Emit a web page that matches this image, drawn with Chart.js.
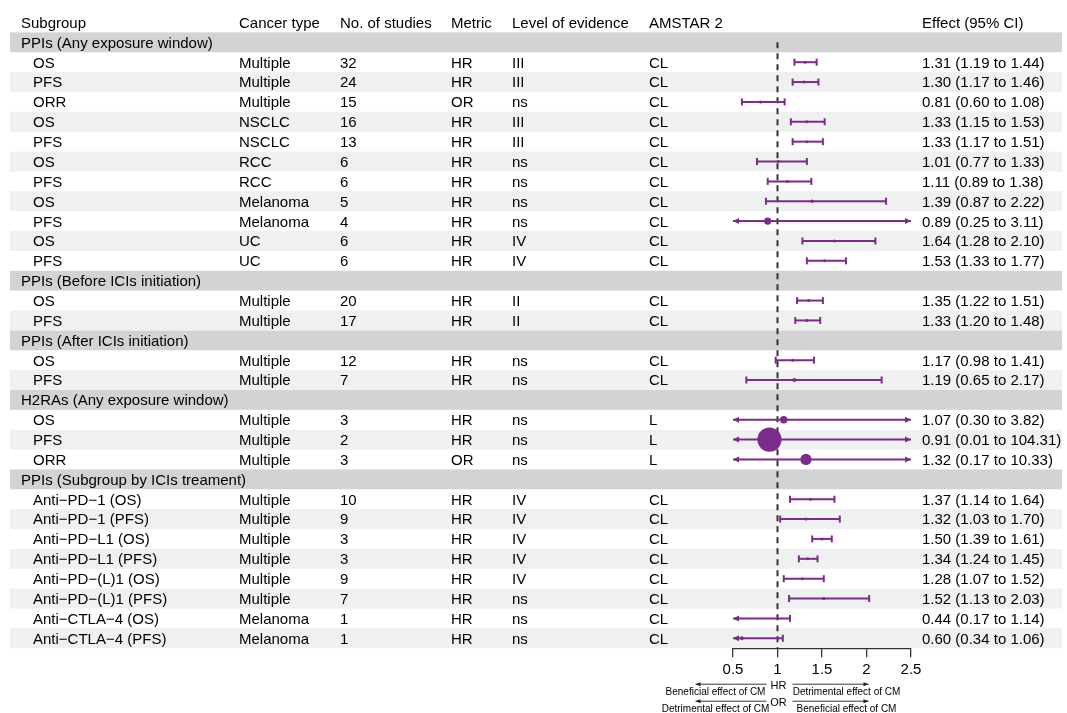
<!DOCTYPE html>
<html>
<head>
<meta charset="utf-8">
<title>Forest plot: acid suppressants and ICI outcomes</title>
<script src="https://cdn.jsdelivr.net/npm/chart.js@4.4.1/dist/chart.umd.min.js"></script>
<style>
  html, body { margin: 0; padding: 0; background: #ffffff; }
  canvas { display: block; }
</style>
</head>
<body>
<canvas id="forest" width="1067" height="713"></canvas>
<script>
// ---- Table / plot data -------------------------------------------------
const headers = ["Subgroup", "Cancer type", "No. of studies", "Metric", "Level of evidence", "AMSTAR 2", "Effect (95% CI)"];

const groupNames = [
  "PPIs (Any exposure window)",
  "PPIs (Before ICIs initiation)",
  "PPIs (After ICIs initiation)",
  "H2RAs (Any exposure window)",
  "PPIs (Subgroup by ICIs treament)"
];

// group index of each data row
const rowGroup = [0,0,0,0,0,0,0,0,0,0,0, 1,1, 2,2, 3,3,3, 4,4,4,4,4,4,4,4];

const subgroups = [
  "OS", "PFS", "ORR", "OS", "PFS", "OS", "PFS", "OS", "PFS", "OS", "PFS",
  "OS", "PFS",
  "OS", "PFS",
  "OS", "PFS", "ORR",
  "Anti\u2212PD\u22121 (OS)", "Anti\u2212PD\u22121 (PFS)", "Anti\u2212PD\u2212L1 (OS)", "Anti\u2212PD\u2212L1 (PFS)",
  "Anti\u2212PD\u2212(L)1 (OS)", "Anti\u2212PD\u2212(L)1 (PFS)", "Anti\u2212CTLA\u22124 (OS)", "Anti\u2212CTLA\u22124 (PFS)"
];

const cancerTypes = [
  "Multiple", "Multiple", "Multiple", "NSCLC", "NSCLC", "RCC", "RCC", "Melanoma", "Melanoma", "UC", "UC",
  "Multiple", "Multiple",
  "Multiple", "Multiple",
  "Multiple", "Multiple", "Multiple",
  "Multiple", "Multiple", "Multiple", "Multiple", "Multiple", "Multiple", "Melanoma", "Melanoma"
];

const studyCounts = [32, 24, 15, 16, 13, 6, 6, 5, 4, 6, 6, 20, 17, 12, 7, 3, 2, 3, 10, 9, 3, 3, 9, 7, 1, 1];

const metrics = [
  "HR", "HR", "OR", "HR", "HR", "HR", "HR", "HR", "HR", "HR", "HR",
  "HR", "HR", "HR", "HR", "HR", "HR", "OR",
  "HR", "HR", "HR", "HR", "HR", "HR", "HR", "HR"
];

const evidenceLevels = [
  "III", "III", "ns", "III", "III", "ns", "ns", "ns", "ns", "IV", "IV",
  "II", "II", "ns", "ns", "ns", "ns", "ns",
  "IV", "IV", "IV", "IV", "IV", "ns", "ns", "ns"
];

const amstarRatings = [
  "CL", "CL", "CL", "CL", "CL", "CL", "CL", "CL", "CL", "CL", "CL",
  "CL", "CL", "CL", "CL", "L", "L", "L",
  "CL", "CL", "CL", "CL", "CL", "CL", "CL", "CL"
];

const estimates = [1.31, 1.30, 0.81, 1.33, 1.33, 1.01, 1.11, 1.39, 0.89, 1.64, 1.53,
                   1.35, 1.33, 1.17, 1.19, 1.07, 0.91, 1.32,
                   1.37, 1.32, 1.50, 1.34, 1.28, 1.52, 0.44, 0.60];
const lowerCI   = [1.19, 1.17, 0.60, 1.15, 1.17, 0.77, 0.89, 0.87, 0.25, 1.28, 1.33,
                   1.22, 1.20, 0.98, 0.65, 0.30, 0.01, 0.17,
                   1.14, 1.03, 1.39, 1.24, 1.07, 1.13, 0.17, 0.34];
const upperCI   = [1.44, 1.46, 1.08, 1.53, 1.51, 1.33, 1.38, 2.22, 3.11, 2.10, 1.77,
                   1.51, 1.48, 1.41, 2.17, 3.82, 104.31, 10.33,
                   1.64, 1.70, 1.61, 1.45, 1.52, 2.03, 1.14, 1.06];

const xTicks = [0.5, 1, 1.5, 2, 2.5];

// ---- Row layout (group header rows interleaved with data rows) ----------
const rowPos = [];       // y value of each data row
const withinGroup = [];  // index of each data row inside its group
const groupPos = [];     // y value of each group header row
let cursor = 0;
rowGroup.forEach((g, i) => {
  if (i === 0 || rowGroup[i - 1] !== g) {
    groupPos.push(cursor++);
    withinGroup.push(0);
  } else {
    withinGroup.push(withinGroup[i - 1] + 1);
  }
  rowPos.push(cursor++);
});
const totalRows = cursor;

const PURPLE = "#7b2b89";
const FONT = '"Liberation Sans", Arial, Helvetica, sans-serif';
const colX = [21, 239, 340, 451, 512, 649, 922];
const subIndent = 33;
const CAP_MID = 5.4;   // half the cap height of 15px text, to centre labels in rows

const fmt = v => v.toFixed(2);

function arrowHead(ctx, xTip, y, dir, len, half) {
  ctx.beginPath();
  ctx.moveTo(xTip, y);
  ctx.lineTo(xTip - dir * len, y - half);
  ctx.lineTo(xTip - dir * len, y + half);
  ctx.closePath();
  ctx.fill();
}

const forestPlugin = {
  id: "forestTable",
  beforeDraw(chart) {
    const ctx = chart.ctx;
    const ys = chart.scales.y;
    const rowH = Math.abs(ys.getPixelForValue(1) - ys.getPixelForValue(0));
    const bandL = 10, bandR = 1062;
    ctx.save();
    // shaded bands
    groupPos.forEach(p => {
      const y = ys.getPixelForValue(p);
      ctx.fillStyle = "#d3d3d3";
      ctx.fillRect(bandL, y - rowH / 2, bandR - bandL, rowH);
    });
    rowPos.forEach((p, i) => {
      if (withinGroup[i] % 2 === 1) {
        const y = ys.getPixelForValue(p);
        ctx.fillStyle = "#eef1ef";
        ctx.fillRect(bandL, y - rowH / 2, bandR - bandL, rowH);
      }
    });
    // table text
    ctx.fillStyle = "#000";
    ctx.font = "15px " + FONT;
    ctx.textBaseline = "alphabetic";
    ctx.textAlign = "left";
    const yHead = ys.getPixelForValue(-1) + CAP_MID;
    headers.forEach((h, k) => ctx.fillText(h, colX[k], yHead));
    groupPos.forEach((p, g) => ctx.fillText(groupNames[g], colX[0], ys.getPixelForValue(p) + CAP_MID));
    rowPos.forEach((p, i) => {
      const y = ys.getPixelForValue(p) + CAP_MID;
      ctx.fillText(subgroups[i], subIndent, y);
      ctx.fillText(cancerTypes[i], colX[1], y);
      ctx.fillText(String(studyCounts[i]), colX[2], y);
      ctx.fillText(metrics[i], colX[3], y);
      ctx.fillText(evidenceLevels[i], colX[4], y);
      ctx.fillText(amstarRatings[i], colX[5], y);
      ctx.fillText(fmt(estimates[i]) + " (" + fmt(lowerCI[i]) + " to " + fmt(upperCI[i]) + ")", colX[6], y);
    });
    ctx.restore();
  },
  beforeDatasetsDraw(chart) {
    const ctx = chart.ctx;
    const xs = chart.scales.x, ys = chart.scales.y;
    ctx.save();
    // reference line at no effect
    const xRef = xs.getPixelForValue(1);
    ctx.strokeStyle = "#333";
    ctx.lineWidth = 2;
    ctx.setLineDash([6, 5]);
    ctx.beginPath();
    ctx.moveTo(xRef, ys.getPixelForValue(0));
    ctx.lineTo(xRef, chart.chartArea.bottom);
    ctx.stroke();
    ctx.setLineDash([]);
    // confidence intervals
    ctx.strokeStyle = PURPLE;
    ctx.fillStyle = PURPLE;
    ctx.lineWidth = 2;
    estimates.forEach((est, i) => {
      const y = ys.getPixelForValue(rowPos[i]);
      const lo = lowerCI[i], hi = upperCI[i];
      const x0 = xs.getPixelForValue(Math.max(lo, xs.min));
      const x1 = xs.getPixelForValue(Math.min(hi, xs.max));
      ctx.beginPath();
      ctx.moveTo(x0, y);
      ctx.lineTo(x1, y);
      ctx.stroke();
      if (lo < xs.min) {
        arrowHead(ctx, x0, y, -1, 6, 3);
      } else {
        ctx.beginPath(); ctx.moveTo(x0, y - 3.5); ctx.lineTo(x0, y + 3.5); ctx.stroke();
      }
      if (hi > xs.max) {
        arrowHead(ctx, x1, y, 1, 6, 3);
      } else {
        ctx.beginPath(); ctx.moveTo(x1, y - 3.5); ctx.lineTo(x1, y + 3.5); ctx.stroke();
      }
    });
    ctx.restore();
  },
  afterDraw(chart) {
    const ctx = chart.ctx;
    const xs = chart.scales.x;
    const c = xs.getPixelForValue(1);
    const base = chart.chartArea.bottom;
    ctx.save();
    ctx.strokeStyle = "#222";
    ctx.fillStyle = "#222";
    ctx.lineWidth = 0.9;
    const arrow = (xa, xb, y) => {
      ctx.beginPath(); ctx.moveTo(xa, y); ctx.lineTo(xb, y); ctx.stroke();
      arrowHead(ctx, xb, y, xb > xa ? 1 : -1, 5, 2);
    };
    const rows = [
      { arrowY: base + 36, textY: base + 44.5, mid: "HR", left: "Beneficial effect of CM", right: "Detrimental effect of CM" },
      { arrowY: base + 53, textY: base + 61, mid: "OR", left: "Detrimental effect of CM", right: "Beneficial effect of CM" }
    ];
    ctx.textBaseline = "middle";
    rows.forEach(r => {
      arrow(c - 11, c - 82, r.arrowY);
      arrow(c + 15, c + 91, r.arrowY);
      ctx.fillStyle = "#000";
      ctx.font = "11px " + FONT;
      ctx.textAlign = "center";
      ctx.fillText(r.mid, c + 1, r.arrowY + 1.5);
      ctx.font = "10px " + FONT;
      ctx.fillText(r.left, c - 62, r.textY);
      ctx.fillText(r.right, c + 69, r.textY);
      ctx.fillStyle = "#222";
    });
    ctx.restore();
  }
};

new Chart(document.getElementById("forest"), {
  type: "scatter",
  data: {
    datasets: [{
      data: estimates.map((v, i) => ({ x: v, y: rowPos[i] })),
      pointBackgroundColor: PURPLE,
      pointBorderColor: PURPLE,
      pointBorderWidth: 0,
      // marker size grows with the width of the log-scale interval
      pointRadius: c => {
        const i = c.dataIndex;
        if (estimates[i] < 0.5 || estimates[i] > 2.5) return 0;
        return Math.max(1.5, 0.5 + 1.25 * Math.log(upperCI[i] / lowerCI[i]));
      },
      pointHoverRadius: 0,
      clip: false
    }]
  },
  options: {
    responsive: false,
    animation: false,
    devicePixelRatio: 1,
    events: [],
    layout: { padding: { left: 733, right: 156, top: 32.4, bottom: 24.8 } },
    plugins: { legend: { display: false }, tooltip: { enabled: false } },
    scales: {
      x: {
        type: "linear",
        min: 0.5,
        max: 2.5,
        afterBuildTicks: s => { s.ticks = xTicks.map(v => ({ value: v })); },
        afterFit: s => { s.height = 40; },
        ticks: {
          color: "#000",
          font: { size: 15, family: FONT },
          padding: 4,
          maxRotation: 0,
          autoSkip: false,
          callback: v => String(v)
        },
        grid: { drawOnChartArea: false, drawTicks: true, tickLength: 9, color: "#333", lineWidth: 1.3 },
        border: { display: true, color: "#333", width: 1.3 }
      },
      y: {
        type: "linear",
        min: -0.5,
        max: totalRows - 0.5,
        reverse: true,
        display: false
      }
    }
  },
  plugins: [forestPlugin]
});
</script>
</body>
</html>
